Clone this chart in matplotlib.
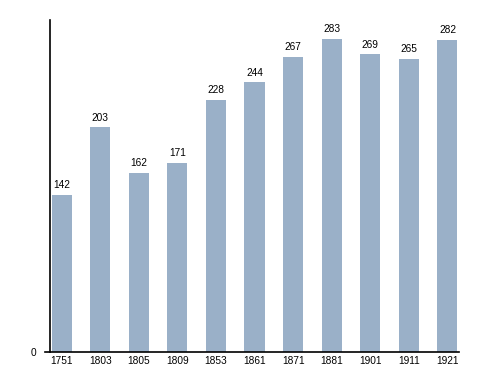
import matplotlib.pyplot as plt

plt.rcParams['font.family'] = ['Liberation Sans', 'DejaVu Sans']

years = ['1751', '1803', '1805', '1809', '1853', '1861', '1871', '1881', '1901', '1911', '1921']
pop = [142, 203, 162, 171, 228, 244, 267, 283, 269, 265, 282]

fig = plt.figure(figsize=(4.88, 3.73), dpi=100)
ax = fig.add_axes([0.1025, 0.0563, 0.8381, 0.8901])

x = range(len(years))
ax.bar(x, pop, width=0.52, color='#9ab0c8', zorder=2)
for i, v in zip(x, pop):
    ax.text(i, v + 4, str(v), ha='center', va='bottom', fontsize=7.3)

ax.set_xlim(-0.3, len(years) - 0.7)
ax.set_ylim(0, 300)
ax.set_xticks(list(x))
ax.set_xticklabels(years, fontsize=7.3)
ax.set_yticks([0])
ax.set_yticklabels(['0'], fontsize=7.3)
ax.tick_params(length=0, pad=3)
ax.tick_params(axis='y', pad=10)

for s in ['top', 'right', 'bottom']:
    ax.spines[s].set_visible(False)
ax.spines['left'].set_linewidth(1.2)
ax.axhline(0, xmin=-0.012, xmax=1, color='black', lw=1.2, clip_on=False, zorder=3)

fig.savefig('out.png', dpi=100)
